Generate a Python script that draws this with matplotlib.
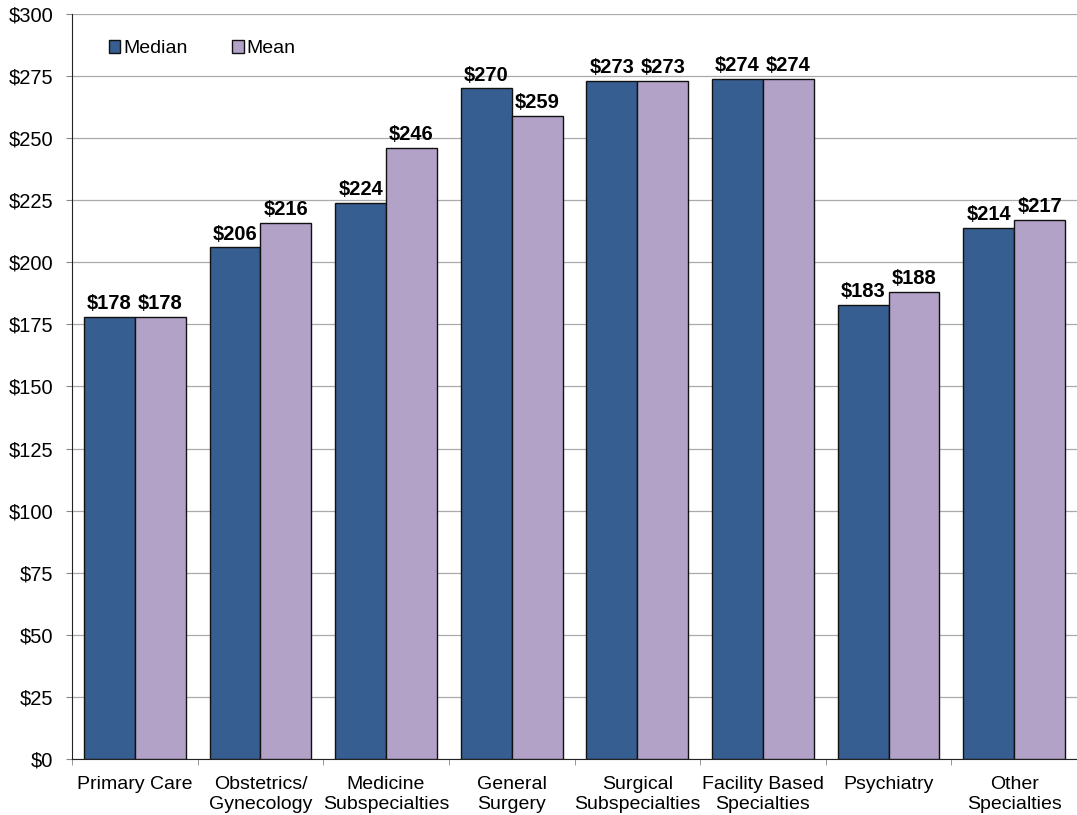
import numpy as np
import matplotlib.pyplot as plt

plt.rcParams['font.family'] = ['Liberation Sans', 'DejaVu Sans']

categories = ['Primary Care', 'Obstetrics/\nGynecology', 'Medicine\nSubspecialties',
              'General\nSurgery', 'Surgical\nSubspecialties', 'Facility Based\nSpecialties',
              'Psychiatry', 'Other\nSpecialties']
median = [178, 206, 224, 270, 273, 274, 183, 214]
mean = [178, 216, 246, 259, 273, 274, 188, 217]

median_color = '#365E91'
mean_color = '#B3A2C8'


def main():
    fig = plt.figure(figsize=(10.77, 8.15), dpi=100)
    ax = fig.add_axes([72 / 1077, 56 / 815, 1 - 72 / 1077, 745 / 815])

    x = np.arange(len(categories))
    w = 0.405
    b1 = ax.bar(x - w / 2, median, w, color=median_color, edgecolor='#111111',
                linewidth=1.0, label='Median', zorder=3)
    b2 = ax.bar(x + w / 2, mean, w, color=mean_color, edgecolor='#111111',
                linewidth=1.0, label='Mean', zorder=3)

    # value labels above each bar
    for bars, vals in ((b1, median), (b2, mean)):
        for rect, v in zip(bars, vals):
            ax.text(rect.get_x() + rect.get_width() / 2, v + 1.5, f'${v}',
                    ha='center', va='bottom', fontsize=14.5, fontweight='bold')

    ax.set_xlim(-0.5, len(categories) - 0.5)
    ax.set_ylim(0, 300)
    ax.set_yticks(range(0, 301, 25))
    ax.set_yticklabels([f'${v}' for v in range(0, 301, 25)], fontsize=14.5)
    ax.yaxis.grid(True, color='#aaaaaa', linewidth=0.9, zorder=0)

    ax.set_xticks(x)
    ax.set_xticklabels(categories, fontsize=14, linespacing=1.25)
    ax.tick_params(axis='x', length=0, pad=12)
    ax.set_xticks(np.arange(-0.5, len(categories)), minor=True)
    ax.tick_params(axis='x', which='minor', length=4.5, color='#888888')
    ax.tick_params(axis='y', length=4.5, color='#888888', pad=9)

    for side in ('top', 'right'):
        ax.spines[side].set_visible(False)
    ax.spines['left'].set_color('#222222')
    ax.spines['bottom'].set_color('#222222')

    ax.legend(loc='upper left', bbox_to_anchor=(0.019, 0.988), ncol=2, frameon=False,
              fontsize=14, handlelength=0.6, handleheight=0.6, handletextpad=0.15,
              columnspacing=2.3)

    fig.savefig('out.png', dpi=100)
    plt.close(fig)


if __name__ == '__main__':
    main()
